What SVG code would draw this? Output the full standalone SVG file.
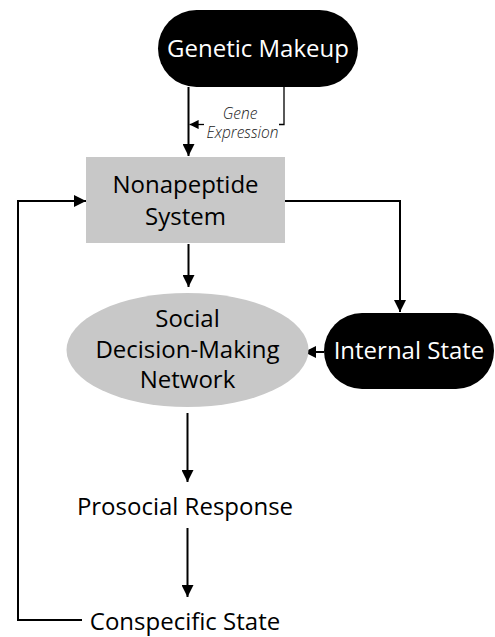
<svg xmlns="http://www.w3.org/2000/svg" width="495" height="637" viewBox="0 0 495 637">
<style>
.lbl{font-family:"Open Sans","Liberation Sans",sans-serif;font-size:24px;text-anchor:middle;fill:#000}
.wlbl{font-family:"Open Sans","Liberation Sans",sans-serif;font-size:24px;text-anchor:middle;fill:#fff}
.it{font-family:"Open Sans","Liberation Sans",sans-serif;font-size:15.5px;font-style:italic;font-weight:300;text-anchor:middle;fill:#1a1a1a}
.ln{fill:none;stroke:#000;stroke-width:2}
.thin{fill:none;stroke:#000;stroke-width:1.3}
.dark{fill:#000}
.gray{fill:#c8c8c8}
</style>
<defs>
<marker id="ah" viewBox="0 0 10 10" refX="10" refY="5" markerWidth="6" markerHeight="6" markerUnits="strokeWidth" orient="auto">
<path d="M0,0 L10,5 L0,10 Z" fill="#000"/>
</marker>
<marker id="ahs" viewBox="0 0 10 10" refX="10" refY="5" markerWidth="7" markerHeight="7" markerUnits="strokeWidth" orient="auto">
<path d="M0,0 L10,5 L0,10 Z" fill="#000"/>
</marker>
</defs>
<g id="connectors">
<path class="ln" d="M188.5,87 V156" marker-end="url(#ah)"/>
<path class="thin" d="M284,87 V124.5 H279"/>
<path class="thin" d="M204,124.5 H189.5" marker-end="url(#ahs)"/>
<path class="ln" d="M188.5,244 V287" marker-end="url(#ah)"/>
<path class="ln" d="M285,201 H400 V312" marker-end="url(#ah)"/>
<path class="ln" d="M324,352 H304" marker-end="url(#ah)"/>
<path class="ln" d="M187.5,413 V482" marker-end="url(#ah)"/>
<path class="ln" d="M187.5,528 V597" marker-end="url(#ah)"/>
<path class="ln" d="M82,620 H18 V201 H86" marker-end="url(#ah)"/>
</g>
<g id="genetic-makeup">
<rect class="dark" x="158" y="10" width="200" height="77" rx="38.5"/>
<text class="wlbl" x="258" y="57">Genetic Makeup</text>
</g>
<g id="gene-expression-label">
<text class="it"><tspan x="240" y="119">Gene</tspan><tspan x="242.5" y="137.5">Expression</tspan></text>
</g>
<g id="nonapeptide-system">
<rect class="gray" x="86" y="157" width="199" height="86"/>
<text class="lbl"><tspan x="185.5" y="193">Nonapeptide</tspan><tspan x="185.5" y="225">System</tspan></text>
</g>
<g id="social-decision-making-network">
<ellipse class="gray" cx="187.5" cy="350" rx="121" ry="57"/>
<text class="lbl"><tspan x="187.5" y="327">Social</tspan><tspan x="187.5" y="358">Decision-Making</tspan><tspan x="187.5" y="388">Network</tspan></text>
</g>
<g id="internal-state">
<rect class="dark" x="324" y="313" width="170" height="76" rx="38"/>
<text class="wlbl" x="409" y="359">Internal State</text>
</g>
<g id="prosocial-response">
<text class="lbl" x="185" y="515">Prosocial Response</text>
</g>
<g id="conspecific-state">
<text class="lbl" x="185" y="630">Conspecific State</text>
</g>
</svg>
